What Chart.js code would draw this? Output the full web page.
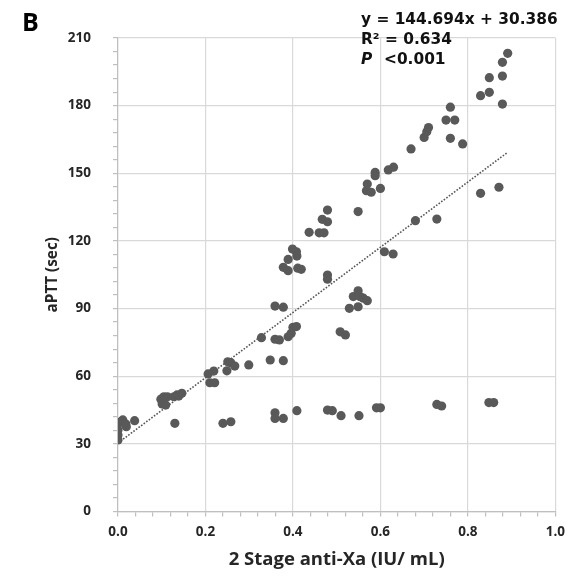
<!DOCTYPE html>
<html><head><meta charset="utf-8">
<script src="https://cdn.jsdelivr.net/npm/chart.js@4"></script>
<style>html,body{margin:0;padding:0;background:#fff}canvas{display:block}</style>
</head><body>
<canvas id="c" width="573" height="576"></canvas>
<script>
// 2 Stage anti-Xa (IU/mL)
const antiXa = [0.000,0.000,0.000,0.000,0.007,0.011,0.019,0.018,0.038,0.130,
  0.098,0.101,0.109,0.105,0.113,0.128,0.135,0.139,0.146,0.206,
  0.219,0.210,0.221,0.251,0.258,0.249,0.267,0.299,0.240,0.258,
  0.328,0.348,0.378,0.359,0.378,0.359,0.369,0.389,0.396,0.400,
  0.408,0.359,0.359,0.378,0.409,0.378,0.389,0.389,0.399,0.408,
  0.409,0.411,0.419,0.437,0.460,0.471,0.467,0.479,0.479,0.479,
  0.479,0.549,0.570,0.568,0.579,0.600,0.588,0.588,0.618,0.630,
  0.680,0.729,0.609,0.629,0.529,0.549,0.538,0.549,0.553,0.561,
  0.570,0.508,0.520,0.479,0.490,0.510,0.551,0.591,0.600,0.729,
  0.740,0.848,0.859,0.670,0.700,0.706,0.710,0.750,0.760,0.770,
  0.760,0.788,0.829,0.849,0.849,0.879,0.879,0.891,0.879,0.829,0.871];
// aPTT (sec)
const aptt = [38.8,36.1,33.9,31.7,39.9,40.6,37.6,38.8,40.3,39.1,
  49.8,47.7,47.2,50.9,50.9,50.9,51.7,51.2,52.4,61.0,
  62.3,57.1,57.1,66.4,66.0,62.4,64.5,65.0,39.1,39.8,
  77.1,67.2,66.9,91.1,90.6,76.4,76.1,77.5,79.0,81.7,
  82.0,43.8,41.3,41.3,44.7,108.3,106.8,111.8,116.4,115.2,
  113.3,107.9,107.4,123.8,123.6,123.6,129.6,128.5,133.7,104.9,
  103.0,133.0,145.2,142.3,141.6,143.3,150.4,148.9,151.5,152.7,
  129.0,129.7,115.2,114.2,90.1,90.8,95.3,97.9,95.3,94.6,
  93.5,79.7,78.3,45.0,44.7,42.5,42.5,46.0,46.0,47.5,
  46.8,48.3,48.3,160.8,165.9,168.4,170.3,173.6,179.3,173.6,
  165.5,163.0,184.4,185.9,192.4,193.1,199.2,203.2,180.7,141.1,143.8];
// linear regression shown on the chart
const slope = 144.694;
const intercept = 30.386;
const trendX = [0, 0.891];
const xTickLabels = ['0.0','0.2','0.4','0.6','0.8','1.0'];
const yTickLabels = ['0','30','60','90','120','150','180','210'];
const annotationLines = ['y = 144.694x + 30.386', 'R\u00B2 = 0.634'];
const pLabel = 'P';
const pValue = '<0.001';
const panelLabel = 'B';

const points = antiXa.map((x, i) => ({x, y: aptt[i]}));
const trend = trendX.map(x => ({x, y: slope * x + intercept}));

Chart.defaults.font.family = '"Open Sans", "Noto Sans", sans-serif';
const DOT = '#595959';
const GRID = '#d9d9d9';
const TXT = '#262626';

const isMult = (v, step) => Math.abs(v / step - Math.round(v / step)) < 1e-6;

const annot = {
  id: 'annot',
  afterDraw(chart) {
    const ctx = chart.ctx;
    ctx.save();
    ctx.fillStyle = '#000';
    ctx.textBaseline = 'alphabetic';
    ctx.textAlign = 'left';
    ctx.font = 'bold 25px "Open Sans", sans-serif';
    ctx.fillText(panelLabel, 22, 31);
    ctx.fillStyle = '#111';
    ctx.font = 'bold 15.4px "DejaVu Sans", sans-serif';
    ctx.fillText(annotationLines[0], 361, 24);
    ctx.fillText(annotationLines[1], 361, 44);
    ctx.font = 'italic bold 15.4px "DejaVu Sans", sans-serif';
    ctx.fillText(pLabel, 361, 64);
    ctx.font = 'bold 15.4px "DejaVu Sans", sans-serif';
    ctx.fillText(pValue, 384, 64);
    ctx.restore();
  }
};

new Chart(document.getElementById('c'), {
  type: 'scatter',
  data: {
    datasets: [
      {
        label: 'data',
        data: points,
        backgroundColor: DOT,
        borderColor: DOT,
        borderWidth: 0,
        pointRadius: 4.6,
        pointHoverRadius: 4.6
      },
      {
        type: 'line',
        label: 'trend',
        data: trend,
        borderColor: '#555',
        borderWidth: 1.6,
        borderDash: [1.6, 1.6],
        pointRadius: 0,
        fill: false
      }
    ]
  },
  options: {
    responsive: false,
    animation: false,
    layout: {padding: {top: 38, right: 8.5, left: 0, bottom: 0}},
    plugins: {legend: {display: false}, tooltip: {enabled: false}},
    scales: {
      x: {
        type: 'linear', min: 0, max: 1,
        afterFit: s => { s.height = 64.5; },
        ticks: {
          stepSize: 0.04, autoSkip: false, maxRotation: 0,
          padding: 8, color: TXT,
          font: {size: 13.5, weight: 'bold'},
          callback: v => isMult(v, 0.2) ? xTickLabels[Math.round(v / 0.2)] : ''
        },
        grid: {
          color: c => (c.tick && isMult(c.tick.value, 0.2)) ? GRID : 'rgba(0,0,0,0)',
          tickColor: '#bfbfbf', tickLength: 5, lineWidth: 1.2
        },
        border: {color: '#bfbfbf', width: 1.2},
        title: {display: true, text: '2 Stage anti-Xa (IU/ mL)', color: TXT,
          font: {size: 18.5, weight: 'bold'}, padding: {bottom: 5, top: 0}}
      },
      y: {
        min: 0, max: 210,
        afterFit: s => { s.width = 118; },
        ticks: {
          stepSize: 6, autoSkip: false, padding: 22, color: TXT,
          font: {size: 13.5, weight: 'bold'},
          callback: v => isMult(v, 30) ? yTickLabels[Math.round(v / 30)] : ''
        },
        grid: {
          color: c => (c.tick && isMult(c.tick.value, 30)) ? GRID : 'rgba(0,0,0,0)',
          tickColor: '#bfbfbf', tickLength: 5, lineWidth: 1.2
        },
        border: {color: '#bfbfbf', width: 1.2},
        title: {display: true, text: 'aPTT (sec)', color: TXT,
          font: {size: 15.3, weight: 'bold'}, padding: {top: 43, bottom: 0}}
      }
    }
  },
  plugins: [annot]
});
</script>
</body></html>
